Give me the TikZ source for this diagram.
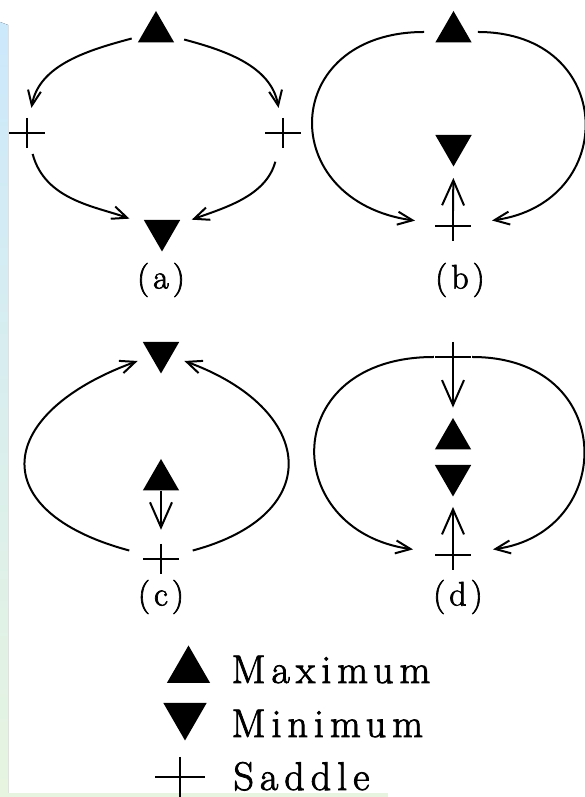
\documentclass[tikz,border=0pt]{standalone}
\usepackage{fontspec}
\setmainfont{Latin Modern Roman}
\newfontfamily\labelfont[LetterSpace=12,FakeBold=2]{Latin Modern Roman}
\newfontfamily\legendfont[LetterSpace=15,FakeBold=2]{Latin Modern Roman}
\usepackage{tikz}
\usetikzlibrary{arrows.meta,positioning,shapes.geometric}
\definecolor{stripblue}{HTML}{CCE8FB}
\definecolor{stripgreen}{HTML}{E6F4E0}
\tikzset{
  maxpoint/.style={regular polygon,regular polygon sides=3,fill=black,
    inner sep=0pt,minimum size=42pt},
  minpoint/.style={maxpoint,shape border rotate=180},
  saddlepoint/.style={rectangle,inner sep=0pt,minimum width=36pt,minimum height=30pt,
    path picture={\draw[line width=2pt]
      (path picture bounding box.north) -- (path picture bounding box.south)
      (path picture bounding box.west) -- (path picture bounding box.east);}},
  flowarrow/.style={-{Straight Barb[length=15pt,width=13pt]},line width=2pt},
  stemarrow/.style={-{Straight Barb[length=25pt,width=22pt]},line width=2pt},
  panellabel/.style={font=\labelfont\fontsize{34}{40}\selectfont},
  legendlabel/.style={anchor=base west,font=\legendfont\fontsize{40}{48}\selectfont}
}

\begin{document}
\begin{tikzpicture}[x=1pt,y=1pt]
  \useasboundingbox (0,0) rectangle (585,797);
  % page strips
  \fill[top color=stripblue,bottom color=stripgreen] (0,4) -- (0,775) -- (8,772) -- (8,4) -- cycle;
  \fill[stripgreen] (0,0) rectangle (388,4);

  % (a) two saddles on the ring
  \node[maxpoint] (maxa) at (156,765) {};
  \node[minpoint] (mina) at (162,566.5) {};
  \node[saddlepoint] (sada1) at (27,664) {};
  \node[saddlepoint] (sada2) at (283,664) {};
  \draw[flowarrow,shorten <=10pt,shorten >=10pt] (maxa) to[out=195,in=80] (sada1);
  \draw[flowarrow,shorten <=14pt,shorten >=10pt] (maxa) to[out=-15,in=100] (sada2);
  \draw[flowarrow,shorten <=6pt,shorten >=18pt] (sada1) to[out=-75,in=160] (mina);
  \draw[flowarrow,shorten <=14pt,shorten >=15pt] (sada2) to[out=-105,in=20] (mina);
  \node[panellabel] (laba) at (161,517) {(a)};

  % (b) saddle below the minimum
  \node[maxpoint] (maxb) at (453.5,765) {};
  \node[minpoint] (minb) at (453.5,651.5) {};
  \node[saddlepoint] (sadb) at (453,571) {};
  \draw[flowarrow,shorten <=17pt,shorten >=20pt] (maxb) to[out=180,in=172,looseness=2.16] (sadb);
  \draw[flowarrow,shorten <=12pt,shorten >=21pt] (maxb) to[out=0,in=8,looseness=2.01] (sadb);
  \draw[stemarrow,shorten >=11pt] (sadb.north) -- (minb.south);
  \node[panellabel] (labb) at (460,517) {(b)};

  % (c) maximum above the saddle
  \node[minpoint] (minc) at (161,444.5) {};
  \node[maxpoint] (maxc) at (161,317) {};
  \node[saddlepoint] (sadc) at (161,238) {};
  \draw[flowarrow,shorten <=14pt,shorten >=14pt] (sadc) to[out=165,in=200,looseness=2.14] (minc);
  \draw[flowarrow,shorten <=14pt,shorten >=14pt] (sadc) to[out=15,in=-20,looseness=1.98] (minc);
  \draw[stemarrow,shorten >=14pt] (maxc.south) -- (sadc.north);
  \node[panellabel] (labc) at (161,200) {(c)};

  % (d) saddle on top, pair in the middle
  \node[saddlepoint] (sadd1) at (453,440) {};
  \node[maxpoint] (maxd) at (453,358) {};
  \node[minpoint] (mind) at (453,321.5) {};
  \node[saddlepoint] (sadd2) at (453,242) {};
  \draw[flowarrow,shorten <=1pt,shorten >=22pt] (sadd1) to[out=180,in=172,looseness=2.06] (sadd2);
  \draw[flowarrow,shorten <=1pt,shorten >=22pt] (sadd1) to[out=0,in=8,looseness=1.93] (sadd2);
  \draw[stemarrow,shorten >=10pt] (sadd1.south) -- (maxd.north);
  \draw[stemarrow,shorten >=10pt] (sadd2.north) -- (mind.south);
  \node[panellabel] (labd) at (458,200) {(d)};

  % legend
  \node[maxpoint,minimum size=50pt] (legmax) at (188.5,126.5) {};
  \node[minpoint,minimum size=50pt] (legmin) at (185,81.5) {};
  \node[saddlepoint,minimum width=50pt,minimum height=40pt] (legsad) at (180,20) {};
  \node[legendlabel] (legmaxtext) at (228,114) {Maximum};
  \node[legendlabel] (legmintext) at (228,60) {Minimum};
  \node[legendlabel] (legsadtext) at (230,7) {Saddle};
\end{tikzpicture}
\end{document}
